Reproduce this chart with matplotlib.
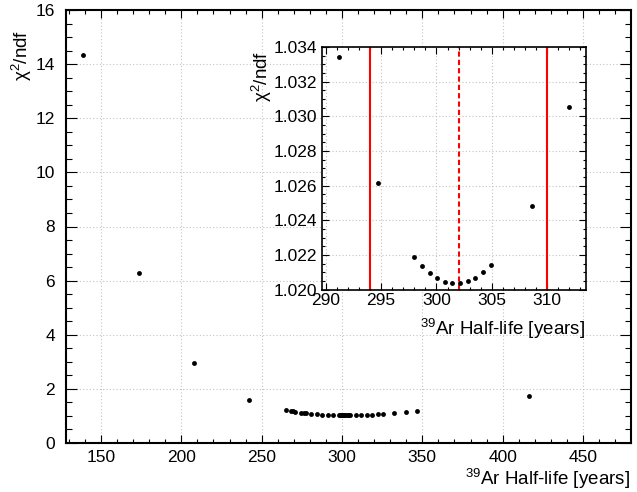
import numpy as np
import matplotlib
matplotlib.use("Agg")
import matplotlib.pyplot as plt
from matplotlib.ticker import MultipleLocator

plt.rcParams['font.family'] = ['Liberation Sans', 'DejaVu Sans']
plt.rcParams['mathtext.fontset'] = 'custom'
plt.rcParams['mathtext.rm'] = 'Liberation Sans'
plt.rcParams['mathtext.it'] = 'Liberation Sans:italic'
plt.rcParams['mathtext.bf'] = 'Liberation Sans:bold'

# scan of the 39Ar half-life vs fit quality
half_life = [138.8, 173.4, 207.8, 242.3,
             265.3, 268.4, 269.8, 270.8, 274.4, 276.1, 277.6, 281.0, 284.3, 287.7,
             291.2, 294.7,
             298.0, 298.69, 299.38, 300.07, 300.76, 301.45, 302.14, 302.83, 303.52, 304.21, 304.9,
             308.6, 312.0,
             315.4, 318.7, 322.2, 325.6, 332.6, 339.9, 346.7, 416.5]
chi2_ndf = [14.35, 6.30, 2.97, 1.58,
            1.215, 1.185, 1.17, 1.16, 1.125, 1.115, 1.10, 1.08, 1.06, 1.045,
            1.03345, 1.02617,
            1.0219, 1.02138, 1.02096, 1.02066, 1.02046, 1.02037, 1.02037, 1.02048, 1.02069, 1.0210, 1.02141,
            1.02485, 1.03052,
            1.04, 1.05, 1.06, 1.07, 1.10, 1.14, 1.185, 1.73]

best_fit = 302.0
band_lo, band_hi = 294.0, 310.0

xlabel = '$^{39}$Ar Half-life [years]'
ylabel = 'χ$^{2}$/ndf'

fig = plt.figure(figsize=(6.37, 4.92), dpi=100)
ax = fig.add_axes([66/637, 1-443/492, 565/637, 433/492])


def style(a, lw, maj_x, maj_y, pad_x, pad_y):
    for s in a.spines.values():
        s.set_linewidth(lw)
    a.tick_params(which='both', direction='in', top=True, right=True,
                  labelsize=12.5, width=0.8)
    a.tick_params(axis='x', which='major', length=maj_x, pad=pad_x)
    a.tick_params(axis='x', which='minor', length=maj_x/2)
    a.tick_params(axis='y', which='major', length=maj_y, pad=pad_y)
    a.tick_params(axis='y', which='minor', length=maj_y/2)
    a.grid(True, which='major', color='#c4c4c4', lw=0.8, ls=(0, (1, 2)))
    a.set_axisbelow(True)


ax.plot(half_life, chi2_ndf, 'o', color='black', ms=3.5, mew=0)
ax.set_xlim(128.2, 479.9)
ax.set_ylim(0, 16)
ax.xaxis.set_major_locator(MultipleLocator(50))
ax.xaxis.set_minor_locator(MultipleLocator(10))
ax.yaxis.set_major_locator(MultipleLocator(2))
ax.yaxis.set_minor_locator(MultipleLocator(0.5))
style(ax, 1.5, 6, 8, 5, 8)
ax.set_xlabel(xlabel, fontsize=13.5, loc='right')
ax.xaxis.set_label_coords(0.998, -0.055)
ax.set_ylabel(ylabel, fontsize=13.5, loc='top')
ax.yaxis.set_label_coords(-0.057, 0.954)

# zoomed view around the minimum
axin = fig.add_axes([322.3/637, 1-289.7/492, 263.7/637, 242.7/492])
axin.set_facecolor('white')
axin.plot(half_life, chi2_ndf, 'o', color='black', ms=3.5, mew=0, zorder=3)
axin.axvline(band_lo, color='red', lw=1.5)
axin.axvline(band_hi, color='red', lw=1.5)
axin.axvline(best_fit, color='red', lw=1.5, ls=(0, (2.5, 1.5)))
axin.set_xlim(289.7, 313.5)
axin.set_ylim(1.020, 1.034)
axin.xaxis.set_major_locator(MultipleLocator(5))
axin.xaxis.set_minor_locator(MultipleLocator(1))
axin.yaxis.set_major_locator(MultipleLocator(0.002))
axin.yaxis.set_minor_locator(MultipleLocator(0.0005))
axin.yaxis.set_major_formatter(matplotlib.ticker.FormatStrFormatter('%.3f'))
style(axin, 1.2, 5, 5, 2.5, 4)
axin.set_xlabel(xlabel, fontsize=13.5, loc='right')
axin.xaxis.set_label_coords(0.996, -0.111)
axin.set_ylabel(ylabel, fontsize=13.5, loc='top')
axin.yaxis.set_label_coords(-0.183, 0.986)

fig.savefig('out.png', dpi=100)
